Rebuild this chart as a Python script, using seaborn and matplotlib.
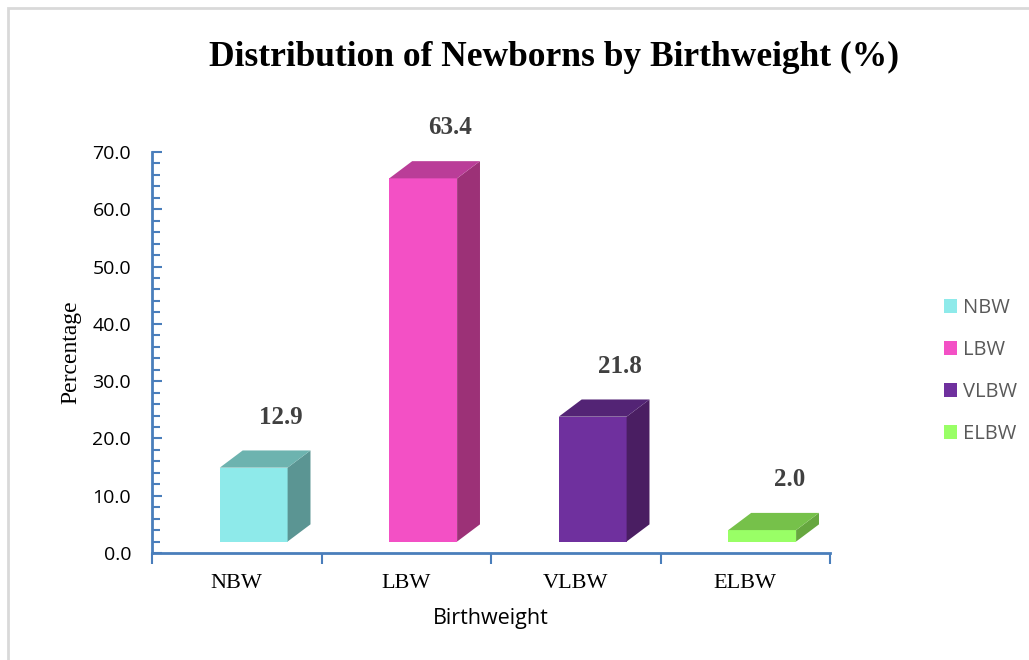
import matplotlib
matplotlib.use("Agg")
import matplotlib.pyplot as plt
from matplotlib.patches import Polygon, Patch, Rectangle
from matplotlib.ticker import MultipleLocator, FixedLocator
import seaborn as sns
import pandas as pd

# Data
categories = ["NBW", "LBW", "VLBW", "ELBW"]
percentages = [12.9, 63.4, 21.8, 2.0]

# Face colours for each bar: front, top, side
front_colors = ["#8EEAEA", "#F350C5", "#6F309E", "#99FF66"]
top_colors = ["#6DB3AF", "#BA3D98", "#532475", "#76C14A"]
side_colors = ["#5B9593", "#9C3177", "#4A1E62", "#66A73F"]

axis_blue = "#4A7EBB"
serif = ["Liberation Serif", "DejaVu Serif"]
sans = ["Open Sans", "DejaVu Sans"]

sns.set_theme(style="white")
plt.rcParams["font.family"] = sans
plt.rcParams["text.color"] = "#000000"

df = pd.DataFrame({"Birthweight": categories, "Percentage": percentages})

fig = plt.figure(figsize=(10.29, 6.6), dpi=100)
ax = fig.add_axes([152 / 1029, 107 / 660, 678 / 1029, 401 / 660])

sns.barplot(data=df, x="Birthweight", y="Percentage", hue="Birthweight",
            palette=front_colors, width=0.4, legend=False, ax=ax,
            saturation=1, linewidth=0, zorder=3)

# Pseudo-3D boxes: front face raised onto the floor, plus top and side faces
floor = 2.0
dx, dy = 0.135, 3.0
shift = 0.1
for i, patch in enumerate(ax.patches):
    x0 = patch.get_x() + shift
    w = patch.get_width()
    h = patch.get_height()
    patch.set_x(x0)
    patch.set_y(floor)
    x1 = x0 + w
    y0, y1 = floor, floor + h
    side = Polygon([(x1, y0), (x1 + dx, y0 + dy), (x1 + dx, y1 + dy), (x1, y1)],
                   closed=True, facecolor=side_colors[i], edgecolor="none", zorder=3)
    top = Polygon([(x0, y1), (x1, y1), (x1 + dx, y1 + dy), (x0 + dx, y1 + dy)],
                  closed=True, facecolor=top_colors[i], edgecolor="none", zorder=3)
    ax.add_patch(side)
    ax.add_patch(top)
    ax.text(i + 0.26, h + 10.8, f"{percentages[i]:.1f}", ha="center", va="center",
            fontsize=18, fontweight="bold", color="#404040", family=serif)

ax.set_xlim(-0.5, 3.5)
ax.set_ylim(0, 70)

# Axes styling
for s in ["top", "right"]:
    ax.spines[s].set_visible(False)
for s in ["left", "bottom"]:
    ax.spines[s].set_color(axis_blue)
    ax.spines[s].set_linewidth(2)

ax.yaxis.set_major_locator(MultipleLocator(10))
ax.yaxis.set_minor_locator(MultipleLocator(2))
ax.set_yticklabels([f"{v:.1f}" for v in ax.get_yticks()])
ax.tick_params(axis="y", which="both", direction="in", color=axis_blue,
               left=True, width=1.5, labelsize=14, pad=15, labelcolor="#000000")
ax.tick_params(axis="y", which="major", length=7)
ax.tick_params(axis="y", which="minor", length=6)

ax.xaxis.set_minor_locator(FixedLocator([-0.5, 0.5, 1.5, 2.5, 3.5]))
ax.tick_params(axis="x", which="major", length=0, pad=15, labelsize=16,
               labelcolor="#000000")
ax.tick_params(axis="x", which="minor", direction="out", length=8, width=1.5,
               color=axis_blue, bottom=True)
for lbl in ax.get_xticklabels():
    lbl.set_family(serif)

ax.set_ylabel("Percentage", fontsize=17, family=serif, labelpad=8, color="#000000")
ax.set_xlabel("Birthweight", fontsize=15.5, labelpad=11, color="#000000")
ax.grid(False)

fig.suptitle("Distribution of Newborns by Birthweight (%)", x=554 / 1029,
             y=1 - 57 / 660, va="center", fontsize=25.5, fontweight="bold",
             family=serif, color="#000000")

handles = [Patch(facecolor=c, edgecolor="none") for c in front_colors]
fig.legend(handles, categories, loc="center left",
           bbox_to_anchor=(926 / 1029, 1 - 371 / 660), frameon=False,
           fontsize=14.5, labelcolor="#595959", handlelength=0.65,
           handleheight=0.65, handletextpad=0.3, labelspacing=1.09)

# Light frame around the chart area
fig.patches.append(Rectangle((8 / 1029, -0.1), 1.2, 1 - 8 / 660 + 0.1,
                             transform=fig.transFigure, fill=False,
                             edgecolor="#D9D9D9", linewidth=2, zorder=0))

fig.savefig("out.png", dpi=100)
